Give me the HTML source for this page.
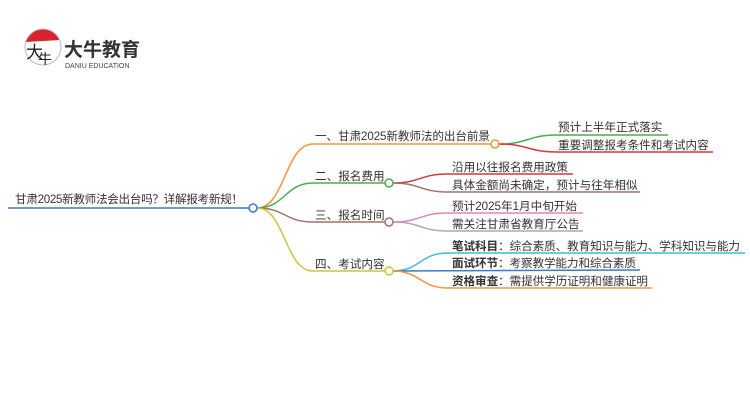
<!DOCTYPE html>
<html><head><meta charset="utf-8"><style>
body{margin:0;background:#fff;}
svg text{font-family:"Liberation Sans","Noto Sans CJK SC",sans-serif;font-size:11.6px;fill:#333;}
</style></head><body>
<svg width="750" height="410" viewBox="0 0 750 410" xmlns="http://www.w3.org/2000/svg">
<path d="M26 42 A18 18 0 0 1 60 40 Z" fill="#d9232d"/>
<circle cx="43" cy="47" r="18" fill="none" stroke="#bbb" stroke-width="1"/>
<text x="26" y="58" style="font-size:17px;fill:#222">大</text>
<text x="38" y="64" style="font-size:14px;fill:#222">牛</text>
<text x="64" y="56" style="font-size:19px;font-weight:bold;fill:#333">大牛教育</text>
<text x="65" y="68" style="font-size:7px;fill:#444">DANIU EDUCATION</text>
<line x1="8" y1="208" x2="249" y2="208" stroke="#3a7bc8" stroke-width="1.5"/>
<text x="15" y="203" textLength="228">甘肃2025新教师法会出台吗？详解报考新规！</text>
<g fill="none" stroke-width="1.5">
<path d="M257 208 C285 208 285 144 313 144 L491 144" stroke="#f7923a"/>
<path d="M257 208 C285 208 285 183 313 183 L385 183" stroke="#4cae4c"/>
<path d="M257 208 C285 208 285 222 313 222 L385 222" stroke="#a0706a"/>
<path d="M257 208 C285 208 285 271 313 271 L385 271" stroke="#c8c83c"/>
<path d="M499 144 C528 144 528 135 557 135 L668 135" stroke="#4cae4c"/>
<path d="M499 144 C528 144 528 152 557 152 L713 152" stroke="#d9363e"/>
<path d="M393 183 C420 183 420 174 448 174 L573 174" stroke="#d9363e"/>
<path d="M393 183 C420 183 420 192 448 192 L640 192" stroke="#a0706a"/>
<path d="M393 222 C420 222 420 213 448 213 L583 213" stroke="#e87fc8"/>
<path d="M393 222 C420 222 420 231 448 231 L583 231" stroke="#aaa"/>
<path d="M393 271 C420 271 420 253 448 253 L745 253" stroke="#3cc0d0"/>
<path d="M393 271 L640 270" stroke="#3a7bc8"/>
<path d="M393 271 C420 271 420 288 448 288 L652 288" stroke="#f7923a"/>
</g>
<circle cx="253" cy="208" r="4" fill="#fff" stroke="#3a7bc8" stroke-width="1.5"/>
<circle cx="495" cy="144" r="4" fill="#fff" stroke="#f7923a" stroke-width="1.5"/>
<circle cx="389" cy="183" r="4" fill="#fff" stroke="#4cae4c" stroke-width="1.5"/>
<circle cx="389" cy="222" r="4" fill="#fff" stroke="#a0706a" stroke-width="1.5"/>
<circle cx="389" cy="271" r="4" fill="#fff" stroke="#c8c83c" stroke-width="1.5"/>
<text x="315" y="140" textLength="175">一、甘肃2025新教师法的出台前景</text>
<text x="315" y="180">二、报名费用</text>
<text x="315" y="219">三、报名时间</text>
<text x="315" y="268">四、考试内容</text>
<text x="558" y="131">预计上半年正式落实</text>
<text x="558" y="149">重要调整报考条件和考试内容</text>
<text x="452" y="171">沿用以往报名费用政策</text>
<text x="452" y="189">具体金额尚未确定，预计与往年相似</text>
<text x="452" y="210">预计2025年1月中旬开始</text>
<text x="452" y="228">需关注甘肃省教育厅公告</text>
<text x="452" y="250" textLength="288"><tspan font-weight="bold">笔试科目</tspan>：综合素质、教育知识与能力、学科知识与能力</text>
<text x="452" y="267" textLength="184"><tspan font-weight="bold">面试环节</tspan>：考察教学能力和综合素质</text>
<text x="452" y="285" textLength="196"><tspan font-weight="bold">资格审查</tspan>：需提供学历证明和健康证明</text>
</svg>
</body></html>
